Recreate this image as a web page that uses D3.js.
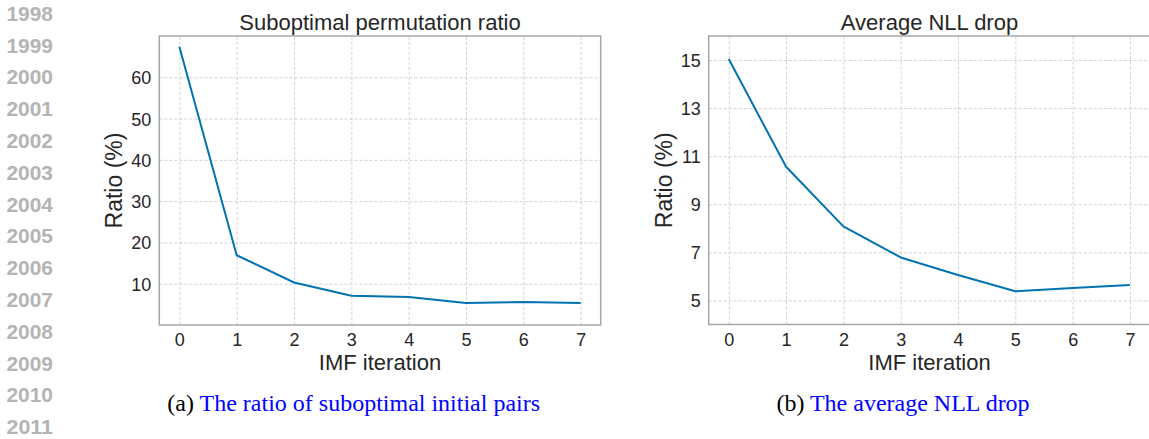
<!DOCTYPE html>
<html>
<head>
<meta charset="utf-8">
<script src="https://cdn.jsdelivr.net/npm/d3@7"></script>
<style>
  html, body { margin: 0; padding: 0; background: #ffffff; }
  svg { display: block; }
  text { font-family: "Liberation Sans", Arial, Helvetica, sans-serif; }
</style>
</head>
<body>
<svg id="fig" width="1149" height="439"></svg>
<script>
// IMF iteration index shared by both panels
const iterations = [0, 1, 2, 3, 4, 5, 6, 7];

// Panel (a): suboptimal permutation ratio (%)
const suboptimalRatio = [67.4, 16.9, 10.3, 7.1, 6.8, 5.3, 5.55, 5.35];
const suboptimalTicks = [10, 20, 30, 40, 50, 60];

// Panel (b): average NLL drop (%)
const nllDrop = [15.04, 10.56, 8.08, 6.79, 6.06, 5.38, 5.52, 5.64];
const nllTicks = [5, 7, 9, 11, 13, 15];

// Line numbers printed down the left margin
const lineNumbers = ["1998", "1999", "2000", "2001", "2002", "2003", "2004",
                     "2005", "2006", "2007", "2008", "2009", "2010", "2011"];

const svg = d3.select("#fig");
const lineColor = "#0173b2";
const textColor = "#262626";

// margin line numbers
svg.append("g")
  .selectAll("text")
  .data(lineNumbers)
  .join("text")
  .attr("x", 6.5)
  .attr("y", (d, i) => 20.8 + i * 31.8)
  .attr("font-size", 19.5)
  .attr("font-weight", "bold")
  .attr("fill", "#b4b4b4")
  .attr("textLength", 46.5)
  .attr("lengthAdjust", "spacingAndGlyphs")
  .text(d => d);

function drawPanel(cfg) {
  const x = d3.scaleLinear().domain([-0.35, 7.35]).range([cfg.left, cfg.right]);
  const y = d3.scaleLinear().domain(cfg.yDomain).range([cfg.bottom, cfg.top]);
  const g = svg.append("g");

  // clip so the plot area never spills past the page edge
  const clipId = "clip-" + cfg.id;
  g.append("clipPath").attr("id", clipId)
    .append("rect")
    .attr("x", cfg.left).attr("y", cfg.top)
    .attr("width", cfg.right - cfg.left).attr("height", cfg.bottom - cfg.top);

  // vertical grid
  const gx = g.append("g")
    .attr("transform", `translate(0,${cfg.bottom})`)
    .call(d3.axisBottom(x).tickValues(iterations).tickSize(-(cfg.bottom - cfg.top)).tickFormat(""));
  gx.select(".domain").remove();
  gx.selectAll("line")
    .attr("stroke", "#cfcfcf").attr("stroke-width", 0.9).attr("stroke-dasharray", "3.2,1.8");

  // horizontal grid
  const gy = g.append("g")
    .attr("transform", `translate(${cfg.left},0)`)
    .call(d3.axisLeft(y).tickValues(cfg.ticks).tickSize(-(cfg.right - cfg.left)).tickFormat(""));
  gy.select(".domain").remove();
  gy.selectAll("line")
    .attr("stroke", "#cfcfcf").attr("stroke-width", 0.9).attr("stroke-dasharray", "3.2,1.8");

  // data line
  const line = d3.line().x((d, i) => x(iterations[i])).y(d => y(d));
  g.append("path")
    .datum(cfg.values)
    .attr("clip-path", `url(#${clipId})`)
    .attr("fill", "none")
    .attr("stroke", lineColor)
    .attr("stroke-width", 2)
    .attr("stroke-linejoin", "round")
    .attr("d", line);

  // frame
  g.append("rect")
    .attr("x", cfg.left).attr("y", cfg.top)
    .attr("width", cfg.right - cfg.left).attr("height", cfg.bottom - cfg.top)
    .attr("fill", "none")
    .attr("stroke", "#a6a6a6")
    .attr("stroke-width", 1.5);

  // tick labels
  const ax = g.append("g")
    .attr("transform", `translate(0,${cfg.bottom})`)
    .call(d3.axisBottom(x).tickValues(iterations).tickSize(0).tickPadding(8.3).tickFormat(d3.format("d")));
  ax.select(".domain").remove();
  ax.selectAll("text").attr("font-size", 18).attr("fill", textColor)
    .style("font-family", "'Liberation Sans', Arial, sans-serif");

  const ay = g.append("g")
    .attr("transform", `translate(${cfg.left},0)`)
    .call(d3.axisLeft(y).tickValues(cfg.ticks).tickSize(0).tickPadding(8).tickFormat(d3.format("d")));
  ay.select(".domain").remove();
  ay.selectAll("text").attr("font-size", 18).attr("fill", textColor).attr("dy", "0.36em")
    .style("font-family", "'Liberation Sans', Arial, sans-serif");

  // title
  g.append("text")
    .attr("x", cfg.titleX)
    .attr("y", 29.5)
    .attr("text-anchor", "middle")
    .attr("font-size", 22)
    .attr("fill", textColor)
    .text(cfg.title);

  // x label
  g.append("text")
    .attr("x", cfg.xLabelX)
    .attr("y", 369.5)
    .attr("text-anchor", "middle")
    .attr("font-size", 22)
    .attr("fill", textColor)
    .text("IMF iteration");

  // y label
  g.append("text")
    .attr("transform", `translate(${cfg.yLabelX},${(cfg.top + cfg.bottom) / 2}) rotate(-90)`)
    .attr("text-anchor", "middle")
    .attr("font-size", 23)
    .attr("fill", textColor)
    .text("Ratio (%)");

  // sub-figure caption
  const cap = g.append("text")
    .attr("x", cfg.captionX)
    .attr("y", 411)
    .attr("font-size", 24)
    .style("font-family", "'Liberation Serif', 'Times New Roman', serif");
  cap.append("tspan").attr("fill", "#000000").text(cfg.captionTag + " ");
  cap.append("tspan").attr("fill", "#0000ff").text(cfg.caption);
}

drawPanel({
  id: "a",
  left: 159.3, right: 600.7, top: 36, bottom: 325,
  yDomain: [0, 70],
  ticks: suboptimalTicks,
  values: suboptimalRatio,
  title: "Suboptimal permutation ratio",
  titleX: 380,
  xLabelX: 380,
  yLabelX: 121.5,
  captionX: 167.3,
  captionTag: "(a)",
  caption: "The ratio of suboptimal initial pairs"
});

drawPanel({
  id: "b",
  left: 708.7, right: 1150, top: 36, bottom: 324.5,
  yDomain: [4, 16],
  ticks: nllTicks,
  values: nllDrop,
  title: "Average NLL drop",
  titleX: 929.5,
  xLabelX: 929.5,
  yLabelX: 671.5,
  captionX: 776.4,
  captionTag: "(b)",
  caption: "The average NLL drop"
});
</script>
</body>
</html>
